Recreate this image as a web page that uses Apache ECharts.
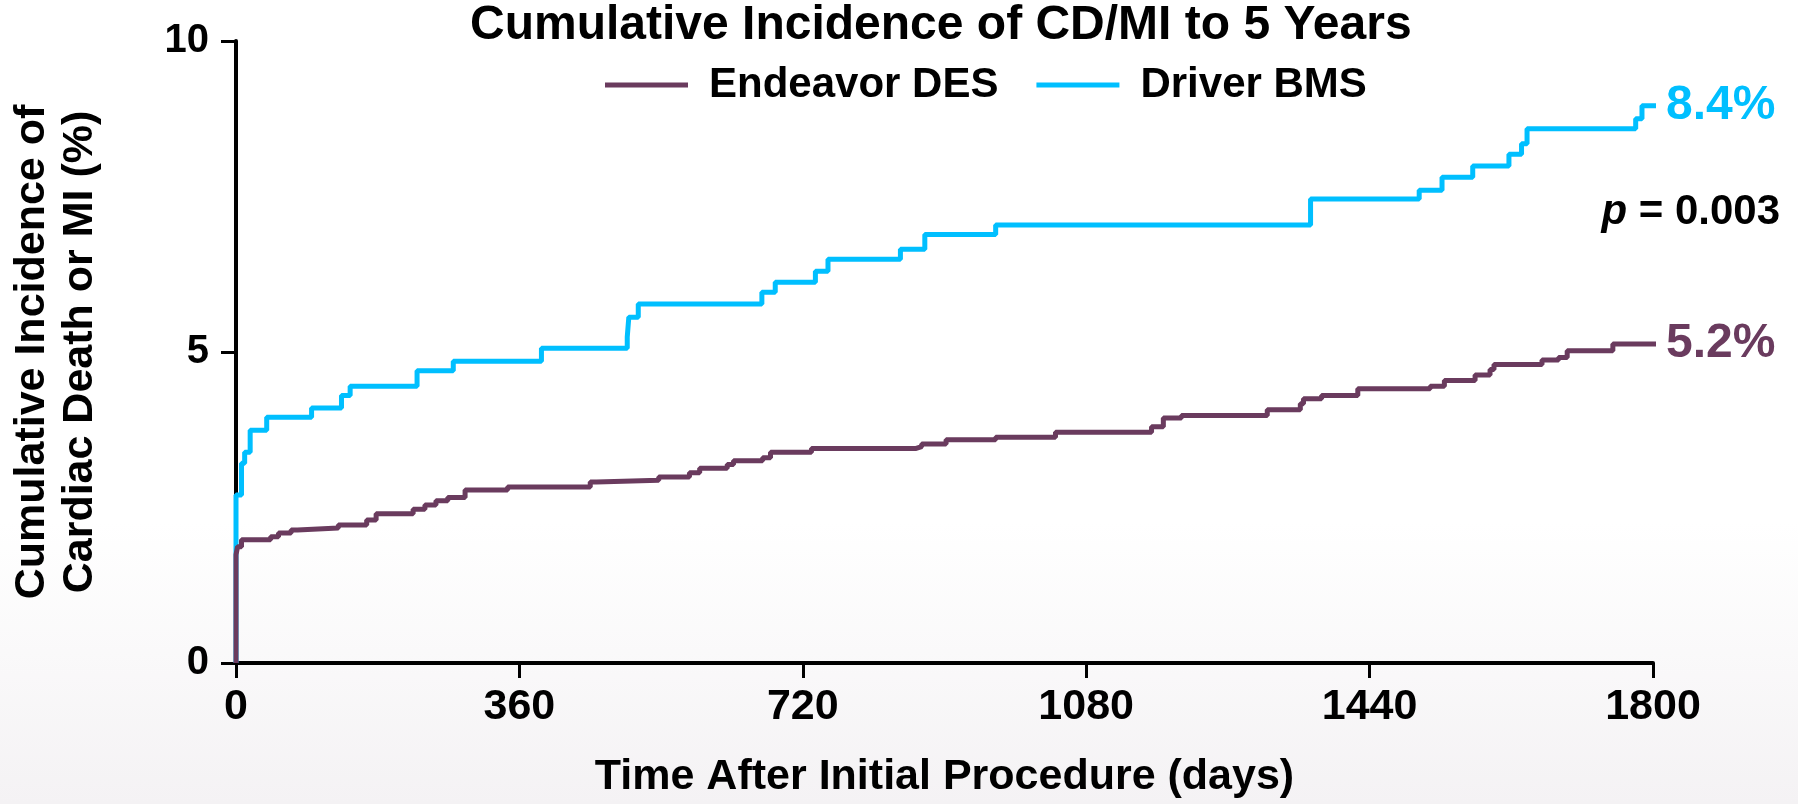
<!DOCTYPE html>
<html>
<head>
<meta charset="utf-8">
<script src="https://cdn.jsdelivr.net/npm/echarts@6/dist/echarts.min.js"></script>
<style>
html,body{margin:0;padding:0;background:#fff;}
#chart{width:1798px;height:804px;}
</style>
</head>
<body>
<div id="chart"></div>
<script>
// ---- data ----
var titleText = 'Cumulative Incidence of CD/MI to 5 Years';
var seriesNames = ['Endeavor DES', 'Driver BMS'];
var endLabels = ['5.2%', '8.4%'];
var pValueText = '{i|p} = 0.003';
var xTicks = [0, 360, 720, 1080, 1440, 1800];
var yTicks = [0, 5, 10];
var xName = 'Time After Initial Procedure (days)';
var yName = 'Cumulative Incidence of\nCardiac Death or MI (%)';

var desDays = [0, 0, 2, 7, 44, 54, 70, 78, 130, 166, 178, 225, 240, 254, 269, 291, 345, 450, 458, 537, 576, 589, 624, 632, 669, 679, 731, 864, 871, 902, 965, 1041, 1163, 1178, 1201, 1310, 1352, 1356, 1379, 1425, 1517, 1535, 1574, 1593, 1598, 1659, 1680, 1691, 1749, 1812];
var desVals = [0, 1.74, 1.87, 1.98, 2.03, 2.09, 2.14, 2.17, 2.22, 2.30, 2.40, 2.47, 2.54, 2.61, 2.66, 2.78, 2.83, 2.91, 2.94, 2.99, 3.06, 3.13, 3.19, 3.25, 3.30, 3.39, 3.45, 3.48, 3.52, 3.59, 3.63, 3.71, 3.80, 3.94, 3.98, 4.07, 4.17, 4.25, 4.30, 4.41, 4.45, 4.54, 4.63, 4.72, 4.80, 4.87, 4.91, 5.02, 5.13, 5.13];

var bmsDays = [0, 0, 7, 11, 18, 39, 96, 134, 145, 230, 276, 388, 497, 499, 511, 668, 685, 736, 752, 844, 875, 965, 1365, 1503, 1532, 1571, 1617, 1633, 1640, 1778, 1786, 1812];
var bmsVals = [0, 2.70, 3.21, 3.39, 3.74, 3.95, 4.10, 4.30, 4.45, 4.70, 4.85, 5.06, 5.24, 5.56, 5.77, 5.96, 6.12, 6.30, 6.49, 6.65, 6.89, 7.04, 7.46, 7.60, 7.81, 7.99, 8.18, 8.35, 8.59, 8.75, 8.96, 8.96];

var colors = ['#6A3B5E', '#00BFFF'];
var FONT = 'Liberation Sans, Arial, Helvetica, sans-serif';

function pairs(xs, ys) { return xs.map(function (x, i) { return [x, ys[i]]; }); }

var chart = echarts.init(document.getElementById('chart'), null, {renderer: 'canvas'});

function makeSeries(idx, xs, ys) {
  return {
    name: seriesNames[idx],
    type: 'line',
    step: 'end',
    data: pairs(xs, ys),
    showSymbol: false,
    symbol: 'none',
    clip: false,
    z: idx === 0 ? 3 : 2,
    lineStyle: {color: colors[idx], width: 5},
    itemStyle: {color: colors[idx]},
    endLabel: {
      show: true,
      formatter: endLabels[idx],
      color: colors[idx],
      fontFamily: FONT,
      fontWeight: 'bold',
      fontSize: 48,
      distance: 10
    },
    emphasis: {disabled: true}
  };
}

chart.setOption({
  animation: false,
  backgroundColor: {
    type: 'linear', x: 0, y: 0, x2: 0, y2: 1,
    colorStops: [{offset: 0, color: '#ffffff'}, {offset: 0.65, color: '#ffffff'}, {offset: 1, color: '#f4f2f4'}]
  },
  color: colors,
  title: [{
    text: titleText,
    left: 470,
    top: 2,
    padding: 0,
    textStyle: {fontFamily: FONT, fontWeight: 'bold', fontSize: 48, lineHeight: 48, color: '#000'}
  }, {
    text: pValueText,
    right: 18,
    top: 190,
    padding: 0,
    textStyle: {
      fontFamily: FONT, fontWeight: 'bold', fontSize: 42, lineHeight: 44, color: '#000',
      rich: {i: {fontFamily: FONT, fontWeight: 'bold', fontStyle: 'italic', fontSize: 42, lineHeight: 44, color: '#000'}}
    }
  }],
  legend: {
    data: seriesNames,
    left: 605,
    top: 64,
    padding: 0,
    itemWidth: 83,
    itemHeight: 5,
    itemGap: 38,
    icon: 'rect',
    selectedMode: false,
    textStyle: {fontFamily: FONT, fontWeight: 'bold', fontSize: 42, lineHeight: 42, color: '#000', padding: [0, 0, 0, 16]}
  },
  grid: {left: 232, right: 145, top: 41, bottom: 139, containLabel: false},
  xAxis: {
    type: 'value',
    min: xTicks[0],
    max: xTicks[xTicks.length - 1],
    interval: xTicks[1] - xTicks[0],
    name: xName,
    nameLocation: 'middle',
    nameGap: 93,
    nameTextStyle: {fontFamily: FONT, fontWeight: 'bold', fontSize: 43, lineHeight: 43, color: '#000'},
    axisLine: {show: true, lineStyle: {color: '#000', width: 4}},
    axisTick: {show: true, length: 15, lineStyle: {color: '#000', width: 3}},
    axisLabel: {
      margin: 23, fontFamily: FONT, fontWeight: 'bold', fontSize: 43, lineHeight: 43, color: '#000',
      formatter: function (v) { return String(v); }
    },
    splitLine: {show: false}
  },
  yAxis: {
    type: 'value',
    min: yTicks[0],
    max: yTicks[yTicks.length - 1],
    interval: yTicks[1] - yTicks[0],
    name: yName,
    nameLocation: 'middle',
    nameGap: 132,
    nameTextStyle: {fontFamily: FONT, fontWeight: 'bold', fontSize: 43, lineHeight: 48, color: '#000'},
    axisLine: {show: true, lineStyle: {color: '#000', width: 4}},
    axisTick: {show: true, length: 15, lineStyle: {color: '#000', width: 3}},
    axisLabel: {
      margin: 27, fontFamily: FONT, fontWeight: 'bold', fontSize: 40, color: '#000',
      formatter: function (v) { return String(v); }
    },
    splitLine: {show: false}
  },
  series: [
    makeSeries(0, desDays, desVals),
    makeSeries(1, bmsDays, bmsVals)
  ]
});
</script>
</body>
</html>
